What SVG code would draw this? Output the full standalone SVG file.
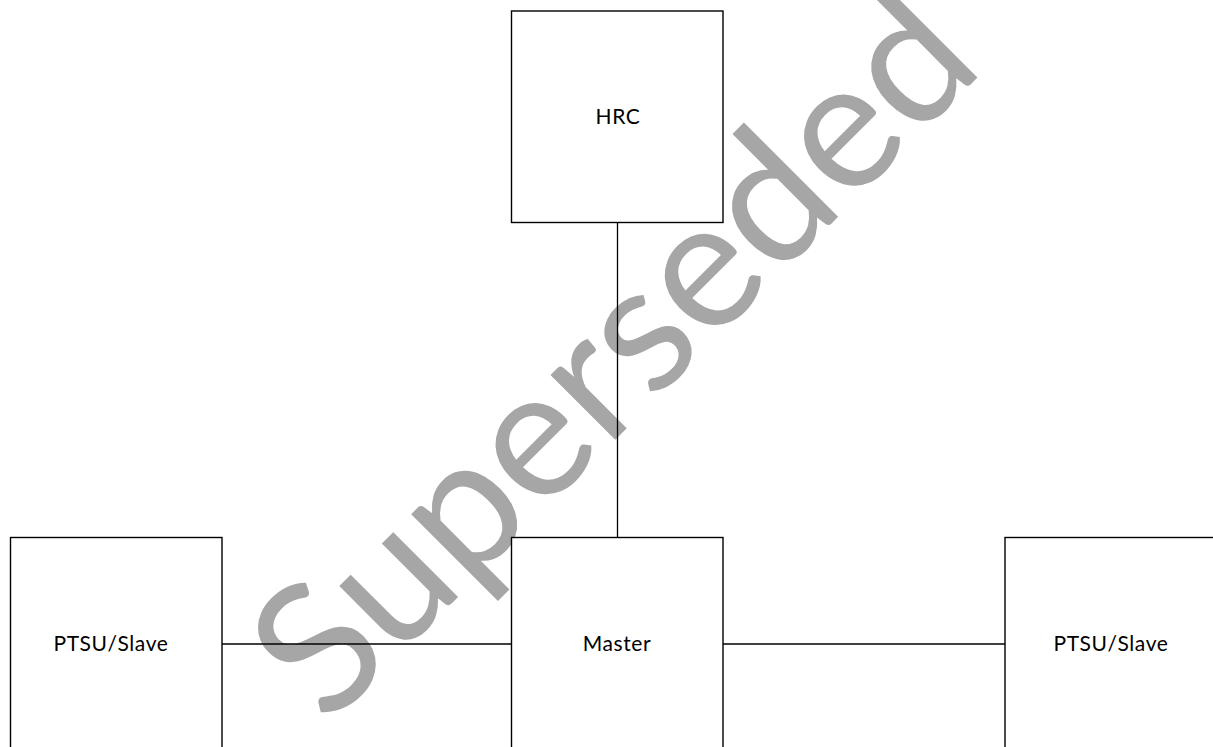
<svg xmlns="http://www.w3.org/2000/svg" width="1213" height="747" viewBox="0 0 1213 747">
<style>
.box{fill:#ffffff;stroke:#000000;stroke-width:1.4}
.lbl{font-family:Lato,"Liberation Sans",sans-serif;font-size:21px;letter-spacing:0.6px;fill:#000000;text-anchor:middle}
.wire{stroke:#000000;stroke-width:1.3;fill:none}
.wm{font-family:Lato,"Liberation Sans",sans-serif;font-size:181px;fill:#a6a6a6;text-anchor:middle}
</style>
<rect width="1213" height="747" fill="#ffffff"/>
<g id="watermark">
<text class="wm" transform="translate(657,398) rotate(-45)">Superseded</text>
</g>
<g id="connectors">
<line class="wire" x1="617.5" y1="222.5" x2="617.5" y2="537.5"/>
<line class="wire" x1="222" y1="644" x2="511.5" y2="644"/>
<line class="wire" x1="723" y1="644" x2="1005" y2="644"/>
</g>
<g id="hrc">
<rect class="box" x="511.5" y="11" width="211.5" height="211.5"/>
<text class="lbl" x="618" y="124">HRC</text>
</g>
<g id="master">
<rect class="box" x="511.5" y="537.5" width="211.5" height="220"/>
<text class="lbl" x="617" y="651">Master</text>
</g>
<g id="ptsu-left">
<rect class="box" x="10.5" y="537.5" width="211.5" height="220"/>
<text class="lbl" x="111" y="651">PTSU/Slave</text>
</g>
<g id="ptsu-right">
<rect class="box" x="1005" y="537.5" width="220" height="220"/>
<text class="lbl" x="1111" y="651">PTSU/Slave</text>
</g>
</svg>
